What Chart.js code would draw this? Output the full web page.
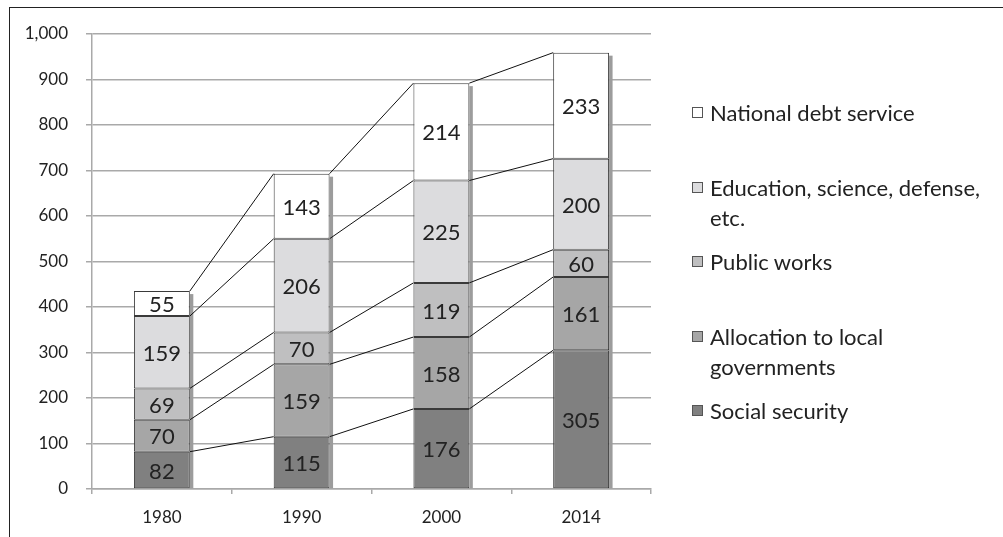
<!DOCTYPE html>
<html>
<head>
<meta charset="utf-8">
<script src="https://cdn.jsdelivr.net/npm/chart.js@4.4.1/dist/chart.umd.min.js"></script>
<style>
  html, body { margin: 0; padding: 0; background: #fff; }
  #wrap { position: relative; width: 1003px; height: 537px; overflow: hidden; }
  #frame { position: absolute; left: 9px; top: 7px; width: 1100px; height: 700px;
           border: 1px solid #222; box-sizing: border-box; pointer-events: none; }
  canvas { position: absolute; left: 0; top: 0; }
  #legend { position: absolute; left: 0; top: 0; font-family: Lato, "Open Sans", sans-serif;
            font-size: 22px; color: #222; }
  .item { position: absolute; left: 692px; width: 305px; }
  .box { position: absolute; left: 0; top: 9px; width: 11px; height: 11px;
         border: 1px solid #555; box-sizing: border-box; }
  .txt { position: absolute; left: 18px; top: 0; width: 285px; line-height: 30px; }
</style>
</head>
<body>
<div id="wrap">
  <canvas id="c" width="1003" height="537"></canvas>
  <div id="legend"></div>
  <div id="frame"></div>
</div>
<script>
// Budget expenditure by category, stacked per year
const years = ['1980', '1990', '2000', '2014'];
const socialSecurity = [82, 115, 176, 305];
const localAllocation = [70, 159, 158, 161];
const publicWorks = [69, 70, 119, 60];
const educationScience = [159, 206, 225, 200];
const debtService = [55, 143, 214, 233];
const yTicks = [0, 100, 200, 300, 400, 500, 600, 700, 800, 900, 1000];

const seriesNames = ['Social security', 'Allocation to local governments', 'Public works',
                     'Education, science, defense, etc.', 'National debt service'];
const seriesColors = ['#808080', '#a6a6a6', '#bfbfc0', '#dcdcde', '#ffffff'];
const seriesValues = [socialSecurity, localAllocation, publicWorks, educationScience, debtService];

const GRID = '#a9a9a9';

// gray drop shadow on the right side of each stacked column
const shadowPlugin = {
  id: 'columnShadow',
  beforeDatasetsDraw(chart) {
    const ctx = chart.ctx;
    const first = chart.getDatasetMeta(0).data;
    const last = chart.getDatasetMeta(chart.data.datasets.length - 1).data;
    ctx.save();
    ctx.fillStyle = '#9c9c9c';
    first.forEach((bar, i) => {
      const top = last[i].y;
      const right = bar.x + bar.width / 2;
      ctx.fillRect(right, top + 3, 3.5, bar.base - top - 3);
    });
    ctx.restore();
  }
};

// connector lines between matching segment tops, then value labels
const seriesLinePlugin = {
  id: 'seriesLines',
  afterDatasetsDraw(chart) {
    const ctx = chart.ctx;
    ctx.save();
    ctx.strokeStyle = '#111';
    ctx.lineWidth = 1;
    chart.data.datasets.forEach((ds, di) => {
      const bars = chart.getDatasetMeta(di).data;
      for (let j = 0; j < bars.length - 1; j++) {
        const a = bars[j], b = bars[j + 1];
        ctx.beginPath();
        ctx.moveTo(a.x + a.width / 2, a.y);
        ctx.lineTo(b.x - b.width / 2, b.y);
        ctx.stroke();
      }
    });
    ctx.fillStyle = '#222';
    ctx.font = '22px Lato, "Open Sans", sans-serif';
    ctx.textAlign = 'center';
    ctx.textBaseline = 'middle';
    chart.data.datasets.forEach((ds, di) => {
      const bars = chart.getDatasetMeta(di).data;
      bars.forEach((bar, j) => {
        ctx.fillText(String(ds.data[j]), bar.x, (bar.y + bar.base) / 2 + 1.5);
      });
    });
    ctx.restore();
  }
};

Chart.defaults.font.family = 'Lato, "Open Sans", sans-serif';
Chart.defaults.color = '#222';

new Chart(document.getElementById('c'), {
  type: 'bar',
  data: {
    labels: years,
    datasets: seriesValues.map((vals, i) => ({
      label: seriesNames[i],
      data: vals,
      backgroundColor: seriesColors[i],
      borderColor: '#3a3a3a',
      borderWidth: 1,
      borderSkipped: false,
      categoryPercentage: 1,
      barPercentage: 0.4
    }))
  },
  options: {
    responsive: false,
    devicePixelRatio: 1,
    animation: false,
    layout: { padding: { left: 0, top: 34, right: 352, bottom: 10 } },
    plugins: { legend: { display: false }, tooltip: { enabled: false } },
    scales: {
      x: {
        stacked: true,
        grid: { drawOnChartArea: false, drawTicks: true, tickLength: 5, color: GRID, lineWidth: 1.5 },
        border: { color: GRID, width: 1.5 },
        ticks: { font: { size: 17 }, padding: 13, color: '#222' },
        afterFit(scale) { scale.height = 38; }
      },
      y: {
        stacked: true,
        min: 0,
        max: 1000,
        afterBuildTicks(scale) { scale.ticks = yTicks.map(v => ({ value: v })); },
        grid: { color: GRID, lineWidth: 1.5, tickLength: 6 },
        border: { color: GRID, width: 1.5 },
        ticks: {
          font: { size: 17 },
          padding: 18,
          color: '#222',
          callback: v => v.toLocaleString('en-US')
        },
        afterFit(scale) { scale.width = 92; }
      }
    }
  },
  plugins: [shadowPlugin, seriesLinePlugin]
});

// legend, listed top-down from the last stacked series
const legend = document.getElementById('legend');
seriesNames.slice().reverse().forEach((name, k) => {
  const idx = seriesNames.length - 1 - k;
  const item = document.createElement('div');
  item.className = 'item';
  item.style.top = (98 + k * 74.5) + 'px';
  const box = document.createElement('div');
  box.className = 'box';
  box.style.background = seriesColors[idx];
  const txt = document.createElement('div');
  txt.className = 'txt';
  txt.textContent = name;
  item.appendChild(box);
  item.appendChild(txt);
  legend.appendChild(item);
});
</script>
</body>
</html>
